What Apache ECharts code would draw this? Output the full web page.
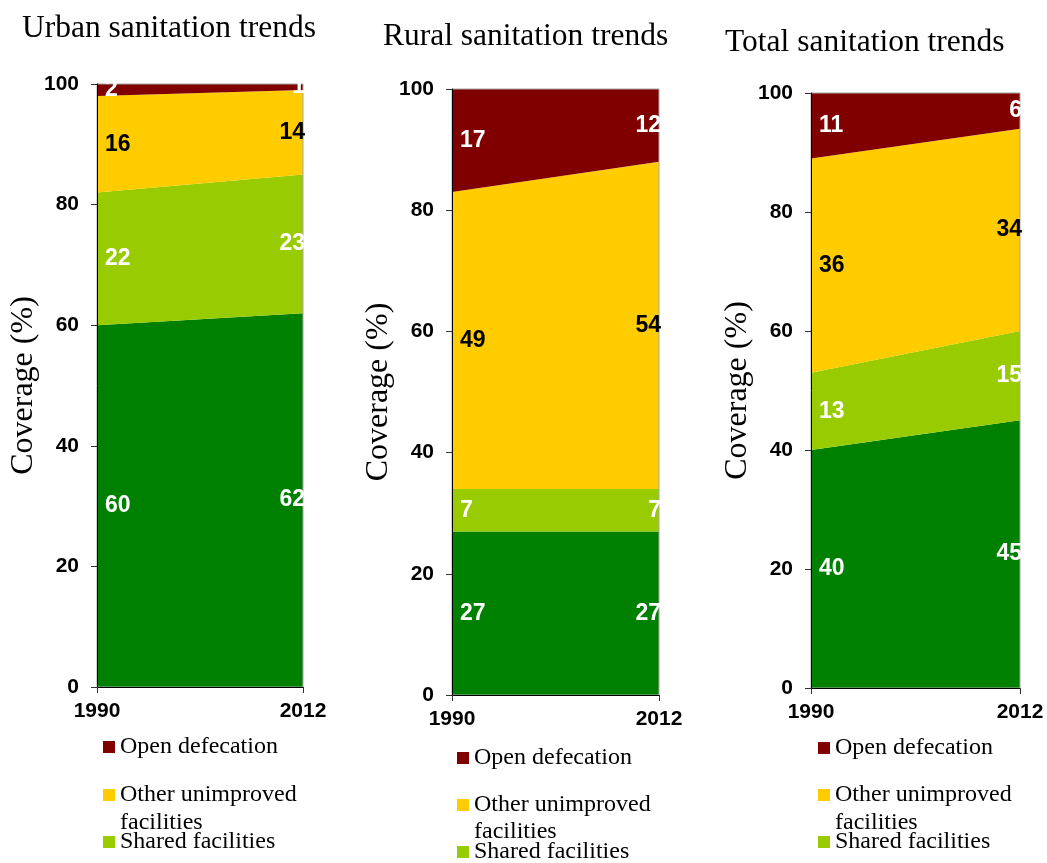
<!DOCTYPE html>
<html>
<head>
<meta charset="utf-8">
<script src="https://cdn.jsdelivr.net/npm/echarts@6/dist/echarts.min.js"></script>
<style>
  html, body { margin: 0; padding: 0; background: #fff; }
  #chart { width: 1047px; height: 863px; }
</style>
</head>
<body>
<div id="chart"></div>
<script>
// Sanitation coverage (%) by facility type, 1990 vs 2012
const years = ['1990', '2012'];
const layerNames = ['Improved facilities', 'Shared facilities', 'Other unimproved facilities', 'Open defecation'];
const legendNames = ['Open defecation', 'Other unimproved facilities', 'Shared facilities'];
const titles = ['Urban sanitation trends', 'Rural sanitation trends', 'Total sanitation trends'];
const yTicks = [0, 20, 40, 60, 80, 100];

const urbanImproved = [60, 62];
const urbanShared   = [22, 23];
const urbanOther    = [16, 14];
const urbanOpen     = [2, 1];

const ruralImproved = [27, 27];
const ruralShared   = [7, 7];
const ruralOther    = [49, 54];
const ruralOpen     = [17, 12];

const totalImproved = [40, 45];
const totalShared   = [13, 15];
const totalOther    = [36, 34];
const totalOpen     = [11, 6];

const panelValues = [
  [urbanImproved, urbanShared, urbanOther, urbanOpen],
  [ruralImproved, ruralShared, ruralOther, ruralOpen],
  [totalImproved, totalShared, totalOther, totalOpen]
];

// layout and styling
const colors = ['#008000', '#99CC00', '#FFCC00', '#800000'];
const labelColors = ['#fff', '#fff', '#000', '#fff'];
const serif = 'Liberation Serif';
const sans = 'Liberation Sans';
const layout = [
  { grid: { left: 97, top: 84, width: 206, height: 603 }, title: { left: 22, top: 13 }, nameGap: 53,
    legendLeft: 103, legendTops: [735, 783, 830], extraY: 823 },
  { grid: { left: 452, top: 89, width: 207, height: 606 }, title: { left: 383, top: 21 }, nameGap: 57,
    legendLeft: 457, legendTops: [746, 793, 840], extraY: 832 },
  { grid: { left: 811, top: 93, width: 209, height: 595 }, title: { left: 725, top: 27 }, nameGap: 57,
    legendLeft: 818, legendTops: [736, 783, 830], extraY: 823 }
];

const option = {
  animation: false,
  backgroundColor: '#fff',
  title: [], grid: [], xAxis: [], yAxis: [], series: [], legend: [], graphic: []
};

panelValues.forEach((vals, p) => {
  const L = layout[p];
  option.title.push({
    text: titles[p], left: L.title.left, top: L.title.top, padding: 0,
    textStyle: { fontFamily: serif, fontSize: 31.5, fontWeight: 'normal', color: '#000' }
  });
  option.grid.push(Object.assign({
    show: true, z: 3, backgroundColor: 'transparent', borderColor: '#a6a6a6', borderWidth: 1
  }, L.grid));
  option.xAxis.push({
    type: 'category', gridIndex: p, data: years, boundaryGap: false, z: 4,
    axisLine: { lineStyle: { color: '#000', width: 1 } },
    axisTick: { show: true, length: 6, lineStyle: { color: '#333' } },
    axisLabel: { margin: 14, color: '#000', fontFamily: sans, fontWeight: 'bold', fontSize: 21 },
    splitLine: { show: false }
  });
  option.yAxis.push({
    type: 'value', gridIndex: p, min: yTicks[0], max: yTicks[yTicks.length - 1],
    interval: yTicks[1] - yTicks[0], z: 4,
    name: 'Coverage (%)', nameLocation: 'middle', nameGap: L.nameGap,
    nameTextStyle: { fontFamily: serif, fontSize: 32, color: '#000' },
    axisLine: { show: true, lineStyle: { color: '#000', width: 1 } },
    axisTick: { show: true, length: 6, lineStyle: { color: '#333' } },
    axisLabel: { margin: 18, color: '#000', fontFamily: sans, fontWeight: 'bold', fontSize: 21 },
    splitLine: { show: false }
  });

  // stacked areas
  vals.forEach((v, k) => {
    option.series.push({
      type: 'line', name: layerNames[k], xAxisIndex: p, yAxisIndex: p, stack: 'cov' + p,
      data: v, symbol: 'none', lineStyle: { width: 0 },
      areaStyle: { color: colors[k], opacity: 1 }, itemStyle: { color: colors[k] }, z: 2
    });
  });

  // value labels placed in the middle of each band
  vals.forEach((v, k) => {
    const pts = v.map((val, i) => {
      let base = 0;
      for (let j = 0; j < k; j++) base += vals[j][i];
      const right = i === v.length - 1;
      return {
        value: [i, base + val / 2, val],
        label: { align: right ? 'right' : 'left', offset: right ? [2, 0] : [8, 0] }
      };
    });
    option.series.push({
      type: 'scatter', xAxisIndex: p, yAxisIndex: p, data: pts, symbolSize: 1,
      itemStyle: { color: 'rgba(0,0,0,0)', opacity: 1 }, silent: true, z: 6, legendHoverLink: false,
      label: {
        show: true, position: 'inside', formatter: d => String(d.value[2]),
        color: labelColors[k], opacity: 1, fontFamily: sans, fontWeight: 'bold', fontSize: 23
      }
    });
  });

  // legend entries, one component per row
  legendNames.forEach((nm, r) => {
    option.legend.push({
      data: [nm], left: L.legendLeft, top: L.legendTops[r], padding: 0, orient: 'vertical',
      icon: 'rect', itemWidth: 12, itemHeight: 12, selectedMode: false,
      formatter: n => n === 'Other unimproved facilities' ? 'Other unimproved' : n,
      textStyle: { fontFamily: serif, fontSize: 24, color: '#000', lineHeight: 24 }
    });
  });
  option.graphic.push({
    type: 'text', left: L.legendLeft + 17, top: L.extraY - 12,
    style: { text: 'facilities', font: '24px "Liberation Serif"', fill: '#000' }
  });
});

const chart = echarts.init(document.getElementById('chart'), null, { renderer: 'canvas' });
chart.setOption(option);
</script>
</body>
</html>
